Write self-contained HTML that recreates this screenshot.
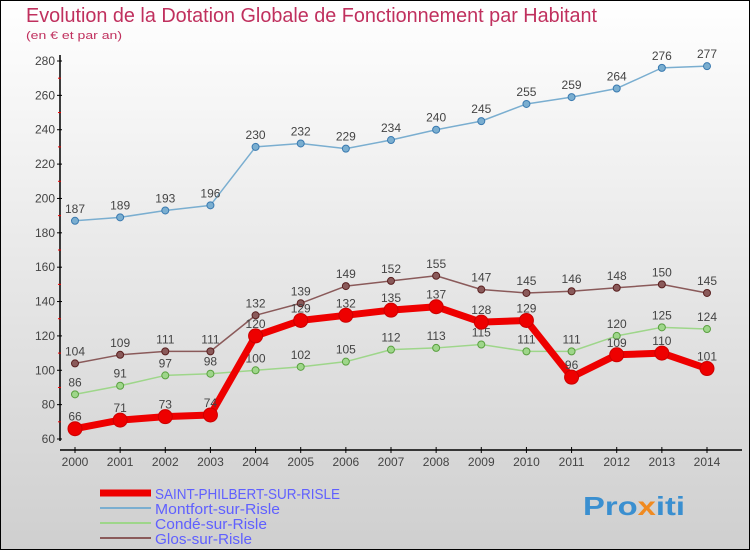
<!DOCTYPE html>
<html><head><meta charset="utf-8"><style>
body{margin:0}
#c{width:750px;height:550px;position:relative;overflow:hidden;font-family:"Liberation Sans",sans-serif}
</style></head><body>
<div id="c">
<svg id="s" width="750" height="550" xmlns="http://www.w3.org/2000/svg">
<defs><linearGradient id="bg" x1="0" y1="0" x2="0" y2="1"><stop offset="0" stop-color="#ffffff"/><stop offset="1" stop-color="#cfcfcf"/></linearGradient></defs>
<rect x="0.5" y="0.5" width="749" height="549" fill="url(#bg)" stroke="#000"/>
<text x="26" y="22" font-size="20" fill="#c0305e" textLength="571" lengthAdjust="spacingAndGlyphs">Evolution de la Dotation Globale de Fonctionnement par Habitant</text>
<text x="26" y="39" font-size="11" fill="#c0305e" textLength="96" lengthAdjust="spacingAndGlyphs">(en € et par an)</text>
<g id="axes"></g><g id="series"></g>
<g>
<line x1="100" y1="493" x2="151" y2="493" stroke="#e00" stroke-width="7"/>
<text x="155" y="499" font-size="15" fill="#6060ff" textLength="185" lengthAdjust="spacingAndGlyphs">SAINT-PHILBERT-SUR-RISLE</text>
<line x1="100" y1="508" x2="151" y2="508" stroke="#7aaed0" stroke-width="2"/>
<text x="155" y="514" font-size="15" fill="#6060ff" textLength="125" lengthAdjust="spacingAndGlyphs">Montfort-sur-Risle</text>
<line x1="100" y1="523" x2="151" y2="523" stroke="#9ed68a" stroke-width="2"/>
<text x="155" y="529" font-size="15" fill="#6060ff" textLength="112" lengthAdjust="spacingAndGlyphs">Condé-sur-Risle</text>
<line x1="100" y1="538" x2="151" y2="538" stroke="#8a5a5a" stroke-width="2"/>
<text x="155" y="544" font-size="15" fill="#6060ff" textLength="97" lengthAdjust="spacingAndGlyphs">Glos-sur-Risle</text>
</g>
<text x="583" y="515" font-size="26" font-weight="bold" fill="#3a8fd0" textLength="102" lengthAdjust="spacingAndGlyphs">Pro<tspan fill="#f08a20">x</tspan>iti</text>
</svg></div>
<script>
const years=[2000,2001,2002,2003,2004,2005,2006,2007,2008,2009,2010,2011,2012,2013,2014];
const saint=[66,71,73,74,120,129,132,135,137,128,129,96,109,110,101];
const montfort=[187,189,193,196,230,232,229,234,240,245,255,259,264,276,277];
const conde=[86,91,97,98,100,102,105,112,113,115,111,111,120,125,124];
const glos=[104,109,111,111,132,139,149,152,155,147,145,146,148,150,145];
const yTicks=[60,80,100,120,140,160,180,200,220,240,260,280];
const NS="http://www.w3.org/2000/svg";
const X=i=>75+i*(707-75)/14;
const Y=v=>439-(v-60)*(439-61)/220;
function mk(t,a,p,name){const e=document.createElementNS(NS,t);for(const k in a)e.setAttribute(k,a[k]);


p.appendChild(e);return e;}
const ax=document.getElementById('axes');
mk('line',{x1:60,y1:55,x2:60,y2:441,stroke:'#000','stroke-width':1.5},ax,'y-axis');
mk('line',{x1:60,y1:450,x2:742,y2:450,stroke:'#000','stroke-width':1.5},ax,'x-axis');
yTicks.forEach((v,i)=>{const y=Y(v);
mk('line',{x1:57,y1:y,x2:62,y2:y,stroke:'#000'},ax,'y-tick');
const t=mk('text',{x:55,y:y+4,'font-size':12,fill:'#444','text-anchor':'end'},ax,'y-tick-label');t.textContent=v;
if(i<yTicks.length-1){const m=Y(v+10);mk('line',{x1:58,y1:m,x2:61,y2:m,stroke:'#e00'},ax,'y-minor-tick');}});
years.forEach((yr,i)=>{const x=X(i);
mk('line',{x1:x,y1:447,x2:x,y2:453,stroke:'#000'},ax,'x-tick');
const t=mk('text',{x:x,y:466,'font-size':12,fill:'#444','text-anchor':'middle'},ax,'x-tick-label');t.textContent=yr;});
const sg=document.getElementById('series');
function series(d,col,w,r,name,stroke){
mk('polyline',{points:d.map((v,i)=>X(i)+','+Y(v)).join(' '),fill:'none',stroke:col,'stroke-width':w,'stroke-linejoin':'round'},sg,name+'-line');
d.forEach((v,i)=>{mk('circle',{cx:X(i),cy:Y(v),r:r,fill:col,stroke:stroke,'stroke-width':1},sg,name+'-point');
const t=mk('text',{x:X(i),y:Y(v)-8,'font-size':12,fill:'#444','text-anchor':'middle'},sg,name+'-value-label');t.textContent=v;});}
series(montfort,'#7aaed0',1.5,3.5,'montfort','#3a7ab0');
series(conde,'#9ed68a',1.5,3.5,'conde','#5aa040');
series(glos,'#8a5a5a',1.5,3.5,'glos','#5a2020');
series(saint,'#ee0000',7,7,'saint-philbert','#cc0000');
</script>
</body></html>
